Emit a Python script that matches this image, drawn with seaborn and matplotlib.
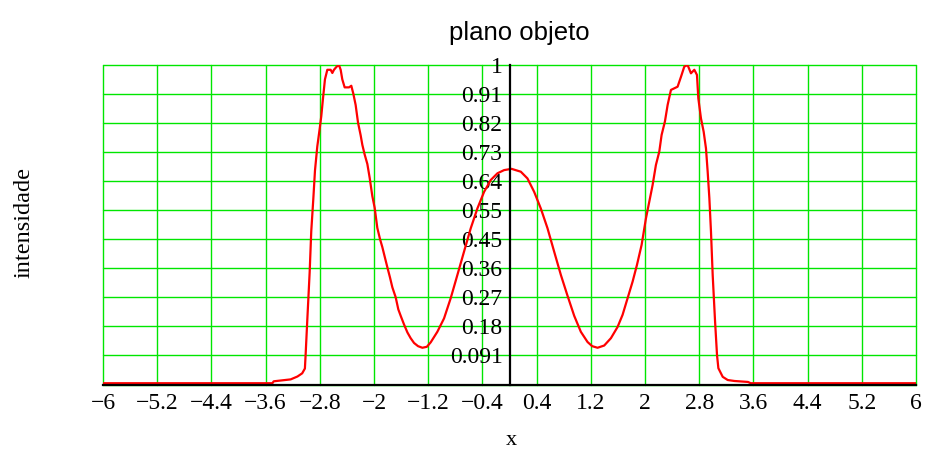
import matplotlib
matplotlib.use("Agg")
import matplotlib.pyplot as plt
import seaborn as sns
import pandas as pd

# ---- data ----
x_vals = [-6.0, -3.50, -3.48, -3.23, -3.13, -3.06, -3.02, -3.01, -2.985, -2.95,
          -2.926, -2.896, -2.871, -2.837, -2.802, -2.778, -2.753, -2.724, -2.689, -2.64,
          -2.615, -2.591, -2.551, -2.517, -2.492, -2.468, -2.433, -2.369, -2.335, -2.305,
          -2.271, -2.236, -2.197, -2.172, -2.138, -2.098, -2.064, -2.025, -1.99, -1.951,
          -1.911, -1.877, -1.842, -1.803, -1.764, -1.729, -1.68, -1.641, -1.606, -1.557,
          -1.507, -1.459, -1.409, -1.35, -1.286, -1.22, -1.163, -1.065, -0.966, -0.868,
          -0.769, -0.671, -0.572, -0.474, -0.375, -0.277, -0.178, -0.08, 0.03, 0.167,
          0.265, 0.364, 0.462, 0.561, 0.659, 0.758, 0.856, 0.955, 1.053, 1.152,
          1.22, 1.30, 1.398, 1.497, 1.595, 1.669, 1.743, 1.817, 1.881, 1.95,
          2.014, 2.063, 2.112, 2.161, 2.211, 2.245, 2.294, 2.334, 2.383, 2.432,
          2.481, 2.531, 2.58, 2.629, 2.678, 2.728, 2.767, 2.787, 2.826, 2.866,
          2.9, 2.925, 2.95, 2.974, 2.999, 3.033, 3.063, 3.083, 3.147, 3.221,
          3.32, 3.52, 3.56, 6.0]
intensity = [0.004, 0.004, 0.010, 0.016, 0.025, 0.035, 0.050, 0.09, 0.20, 0.35,
             0.48, 0.58, 0.67, 0.745, 0.80, 0.84, 0.895, 0.955, 0.985, 0.985,
             0.975, 0.985, 0.995, 1.0, 0.985, 0.955, 0.93, 0.93, 0.935, 0.91,
             0.875, 0.82, 0.78, 0.75, 0.72, 0.69, 0.647, 0.59, 0.553, 0.49,
             0.455, 0.43, 0.40, 0.367, 0.335, 0.304, 0.273, 0.235, 0.215, 0.188,
             0.163, 0.145, 0.130, 0.120, 0.115, 0.118, 0.132, 0.165, 0.207, 0.270,
             0.343, 0.416, 0.489, 0.551, 0.603, 0.640, 0.661, 0.671, 0.675, 0.666,
             0.645, 0.603, 0.551, 0.489, 0.416, 0.343, 0.278, 0.215, 0.165, 0.133,
             0.120, 0.115, 0.122, 0.145, 0.180, 0.218, 0.270, 0.322, 0.374, 0.437,
             0.520, 0.572, 0.624, 0.687, 0.729, 0.781, 0.823, 0.875, 0.922, 0.927,
             0.932, 0.963, 0.995, 1.0, 0.974, 0.985, 0.969, 0.896, 0.833, 0.791,
             0.739, 0.666, 0.583, 0.478, 0.343, 0.202, 0.092, 0.051, 0.024, 0.014,
             0.011, 0.008, 0.004, 0.004]

x_ticks = [-6, -5.2, -4.4, -3.6, -2.8, -2, -1.2, -0.4, 0.4, 1.2, 2, 2.8, 3.6, 4.4, 5.2, 6]
x_tick_labels = ["\u22126", "\u22125.2", "\u22124.4", "\u22123.6", "\u22122.8", "\u22122",
                 "\u22121.2", "\u22120.4", "0.4", "1.2", "2", "2.8", "3.6", "4.4", "5.2", "6"]
y_ticks = [0, 1/11, 2/11, 3/11, 4/11, 5/11, 6/11, 7/11, 8/11, 9/11, 10/11, 1]
y_tick_labels = ["", "0.091", "0.18", "0.27", "0.36", "0.45", "0.55", "0.64",
                 "0.73", "0.82", "0.91", "1"]

title = "plano objeto"
x_label = "x"
y_label = "intensidade"

df = pd.DataFrame({"x": x_vals, "intensidade": intensity})

sns.set_theme(style="white")
plt.rcParams['font.family'] = ['Liberation Serif', 'DejaVu Serif']
plt.rcParams['text.color'] = 'black'

W, H = 927, 450
fig = plt.figure(figsize=(W / 100, H / 100), dpi=100)
ax = fig.add_axes([103 / W, 1 - 384.5 / H, (916 - 103) / W, (384.5 - 65) / H])

sns.lineplot(data=df, x="x", y="intensidade", ax=ax, color="#ff0000",
             linewidth=1.6, estimator=None, sort=False, zorder=3)

ax.set_xlim(-6, 6)
ax.set_ylim(0, 1)
ax.set_xlabel("")
ax.set_ylabel("")

for s in ("top", "right"):
    ax.spines[s].set_visible(False)
ax.spines["left"].set_position(("data", 0))
for s in ("left", "bottom"):
    ax.spines[s].set_color("black")
    ax.spines[s].set_linewidth(1.6)
    ax.spines[s].set_zorder(4)

ax.set_xticks(x_ticks)
ax.set_xticklabels(x_tick_labels)
ax.set_yticks(y_ticks)
ax.set_yticklabels(y_tick_labels)
ax.tick_params(axis="both", direction="inout", length=12, width=1.6,
               color="black", labelsize=17, labelcolor="black")
ax.tick_params(axis="x", pad=0)
ax.tick_params(axis="y", pad=-1)

ax.grid(True, color="#00e600", linewidth=1.0)
for gl in ax.get_xgridlines() + ax.get_ygridlines():
    gl.set_clip_on(False)
ax.set_axisbelow(True)

fig.text(519 / W, 1 - 33 / H, title, ha="center", va="center", fontsize=18.5,
         color="black", family=["Liberation Sans", "DejaVu Sans"])
fig.text(24 / W, 1 - 223 / H, y_label, rotation=90, ha="center", va="center",
         fontsize=17.5, color="black")
fig.text(511 / W, 1 - 445 / H, x_label, ha="center", va="baseline", fontsize=16,
         color="black")

fig.savefig("out.png", dpi=100)
